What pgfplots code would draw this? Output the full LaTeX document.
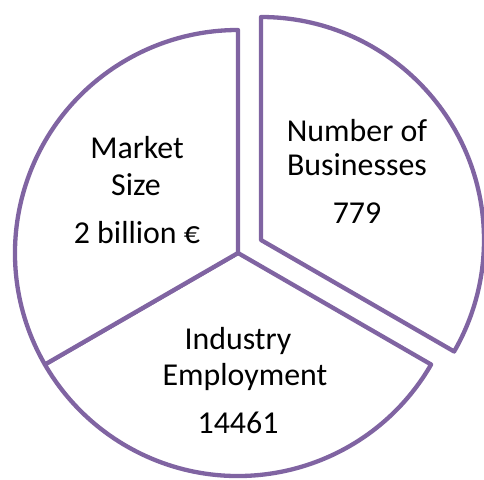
\documentclass[border=0pt]{standalone}
\usepackage{pgfplots}
\pgfplotsset{compat=1.18}
\usepackage{pgfplotstable}
\usepackage{fontspec}
\setmainfont{Carlito}
\definecolor{piepurple}{HTML}{8064A2}

% three equal slices: name, share, start angle, end angle, centre (px, y up)
\pgfplotstableread[col sep=comma]{
name,share,from,to,cx,cy
Businesses,1,90,-30,261,240
Employment,1,-30,-150,238,227
Market,1,210,90,238,227
}\piedata

\begin{document}
\begin{tikzpicture}
\useasboundingbox (0,0) rectangle (484bp,480bp);
\begin{axis}[
    hide axis,
    x=1bp, y=1bp,
    xmin=0, xmax=484,
    ymin=0, ymax=480,
    clip=false,
    at={(0,0)}, anchor=south west,
]
\pgfplotsinvokeforeach{0,1,2}{
    \pgfplotstablegetelem{#1}{from}\of\piedata \edef\angA{\pgfplotsretval}
    \pgfplotstablegetelem{#1}{to}\of\piedata \edef\angB{\pgfplotsretval}
    \pgfplotstablegetelem{#1}{cx}\of\piedata \edef\cenx{\pgfplotsretval}
    \pgfplotstablegetelem{#1}{cy}\of\piedata \edef\ceny{\pgfplotsretval}
    \edef\slice{\noexpand\filldraw[fill=white, draw=piepurple, line width=4.3bp, line join=round]
        (axis cs:\cenx,\ceny) -- ++(\angA:223bp)
        arc[start angle=\angA, end angle=\angB, radius=223bp] -- cycle;}
    \slice
}

% labels
\tikzset{lbl/.style={anchor=base, font=\fontsize{32}{34}\selectfont, inner sep=0pt}}
\node[lbl] at (axis cs:357,339) {Number of};
\node[lbl] at (axis cs:357,305) {Businesses};
\node[lbl] at (axis cs:357,257) {779};

\node[lbl] at (axis cs:137,322) {Market};
\node[lbl] at (axis cs:136,285) {Size};
\node[lbl] at (axis cs:137,237) {2 billion €};

\node[lbl] at (axis cs:238,131) {Industry};
\node[lbl] at (axis cs:245,95) {Employment};
\node[lbl] at (axis cs:238,47) {14461};
\end{axis}
\end{tikzpicture}
\end{document}
